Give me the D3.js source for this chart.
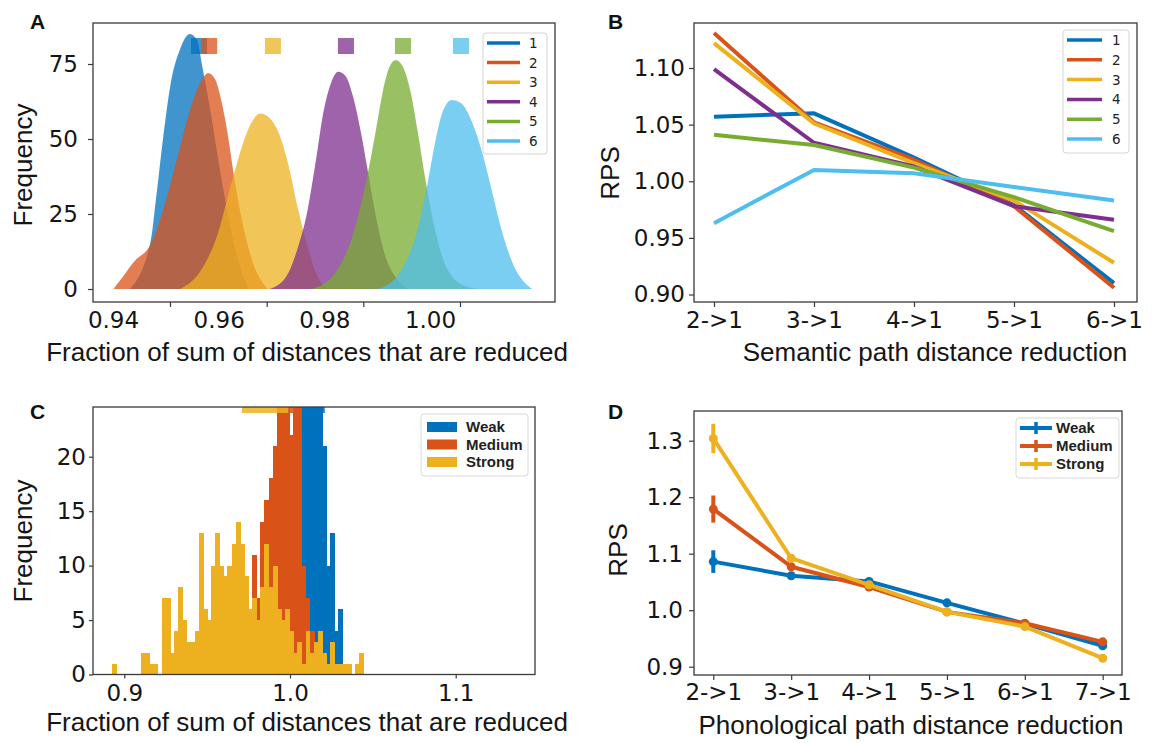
<!DOCTYPE html>
<html>
<head>
<meta charset="utf-8">
<script src="https://cdn.jsdelivr.net/npm/d3@7"></script>
<style>
  body { margin: 0; background: #fff; }
  svg { display: block; }
</style>
</head>
<body>
<svg id="fig" width="1157" height="743"></svg>
<script>
// ---- shared ----
var colors6 = ['#0072BD', '#D95319', '#EDB120', '#7E2F8E', '#77AC30', '#4DBEEE'];
var names6 = ['1', '2', '3', '4', '5', '6'];

// ---- panel A: distributions of reduced fraction ----
var xTicksA = [0.94, 0.96, 0.98, 1.00];
var yTicksA = [0, 25, 50, 75];
var curveA1 = [[0.9317,0],[0.9360,16],[0.9371,30],[0.9387,52],[0.9402,69],[0.9421,80],[0.9441,85],[0.9456,83],[0.9467,74],[0.9483,60],[0.9502,41],[0.9521,24],[0.9540,10],[0.9564,0]];
var curveA2 = [[0.9283,0],[0.9302,4],[0.9325,9],[0.9360,15],[0.9387,27],[0.9417,45],[0.9444,61],[0.9467,70],[0.9479,72],[0.9493,70],[0.9506,63],[0.9519,52],[0.9533,37],[0.9550,22],[0.9571,9],[0.9602,0]];
var curveA3 = [[0.9421,0],[0.9463,6],[0.9498,18],[0.9525,34],[0.9548,47],[0.9567,55],[0.9587,58.5],[0.9606,57],[0.9625,52],[0.9644,42],[0.9663,28],[0.9683,15],[0.9706,4],[0.9725,0]];
var curveA4 = [[0.9606,0],[0.9640,4],[0.9663,13],[0.9683,25],[0.9702,43],[0.9717,58.6],[0.9733,68.6],[0.9748,72.4],[0.9763,71],[0.9779,64],[0.9794,53],[0.9809,39.6],[0.9825,25],[0.9844,11.7],[0.9871,3],[0.9894,0]];
var curveA5 = [[0.9694,0],[0.9740,5],[0.9779,18.4],[0.9806,36],[0.9825,52],[0.9840,65.6],[0.9854,74],[0.9867,76.3],[0.9882,74],[0.9898,65.6],[0.9913,52],[0.9929,36],[0.9948,20],[0.9971,7.5],[1.0010,1],[1.0040,0]];
var curveA6 = [[0.9833,0],[0.9879,6.3],[0.9910,18.6],[0.9933,35.2],[0.9948,48.4],[0.9963,58.6],[0.9983,63],[1.0002,62],[1.0025,55.6],[1.0048,44.3],[1.0067,32],[1.0086,19.7],[1.0109,8.6],[1.0149,0]];
var meansA = [0.9460, 0.9481, 0.9613, 0.9764, 0.9882, 1.0002];
var markerLevelA = 81;

// ---- panel B: RPS by semantic path distance reduction ----
var stepsB = ['2->1', '3->1', '4->1', '5->1', '6->1'];
var yTicksB = [0.90, 0.95, 1.00, 1.05, 1.10];
var rpsB1 = [1.057, 1.060, 1.021, 0.979, 0.910];
var rpsB2 = [1.131, 1.052, 1.019, 0.978, 0.906];
var rpsB3 = [1.122, 1.051, 1.016, 0.983, 0.928];
var rpsB4 = [1.099, 1.034, 1.013, 0.978, 0.966];
var rpsB5 = [1.041, 1.032, 1.012, 0.986, 0.956];
var rpsB6 = [0.963, 1.010, 1.007, 0.995, 0.983];

// ---- panel C: histograms by strength ----
var xTicksC = [0.9, 1.0, 1.1];
var yTicksC = [0, 5, 10, 15, 20];
var binStartC = 0.8928, binWidthC = 0.00248;
var weakC = [0,0,0,0,0,0,0,0,0,0, 0,0,0,0,0,0,0,0,0,0, 0,0,0,0,0,0,0,0,0,0,
             0,0,0,0,0,0,0,0,2,5, 9,14,18,20,24,26,26,26,26,26, 26,21,10,13,4,6,0,0,0,0, 0];
var mediumC = [0,0,0,0,0,0,0,0,0,0, 0,0,0,0,0,0,0,0,0,0, 0,0,0,0,0,0,0,0,0,0,
               0,0,0,0,11,7,14,16,18,21, 26,26,26,22,26,26,10,7,4,2, 0,0,0,0,0,0,0,0,0,0, 0];
var strongC = [1,0,0,0,0,0,0,2,2,1, 1,0,7,7,2,4,8,5,3,3, 4,13,6,5,10,13,10,9,10,12,
               14,12,9,6,7,5,8,12,8,10, 6,5,6,4,2,3,1,4,2,3, 4,2,1,3,1,1,1,1,0,1, 2];
var stripWeakC = [1.016, 1.021], stripMediumC = [0.999, 1.006], stripStrongC = [0.971, 0.999];

// ---- panel D: RPS by phonological path distance reduction ----
var stepsD = ['2->1', '3->1', '4->1', '5->1', '6->1', '7->1'];
var yTicksD = [0.9, 1.0, 1.1, 1.2, 1.3];
var weakD = [1.086, 1.061, 1.051, 1.013, 0.976, 0.937];
var mediumD = [1.179, 1.077, 1.041, 0.997, 0.977, 0.944];
var strongD = [1.304, 1.092, 1.045, 0.997, 0.971, 0.915];
var weakErrD = [0.020, 0.006, 0.005, 0.005, 0.004, 0.005];
var mediumErrD = [0.024, 0.006, 0.005, 0.004, 0.004, 0.005];
var strongErrD = [0.026, 0.007, 0.005, 0.004, 0.004, 0.004];

var strengthNames = ['Weak', 'Medium', 'Strong'];
var strengthColors = ['#0072BD', '#D95319', '#EDB120'];

var svg = d3.select('#fig');
var tickFont = '"DejaVu Sans", sans-serif';
var titleFont = '"Liberation Sans", Arial, sans-serif';

function frame(b) {
  svg.append('rect').attr('x', b.l).attr('y', b.t).attr('width', b.r - b.l).attr('height', b.b - b.t)
    .attr('fill', 'none').attr('stroke', '#3a3a3a').attr('stroke-width', 1.3);
}
function clip(id, b) {
  svg.append('clipPath').attr('id', id).append('rect')
    .attr('x', b.l).attr('y', b.t).attr('width', b.r - b.l).attr('height', b.b - b.t);
  return svg.append('g').attr('clip-path', 'url(#' + id + ')');
}
function styleAxis(g) {
  g.select('.domain').remove();
  g.selectAll('.tick line').attr('stroke', '#3a3a3a').attr('stroke-width', 1.2);
  g.selectAll('.tick text').attr('font-family', tickFont).attr('font-size', 23).attr('fill', '#151515');
}
function title(x, y, txt, rotate) {
  var t = svg.append('text').attr('font-family', titleFont).attr('font-size', 26)
    .attr('fill', '#151515').attr('text-anchor', 'middle').text(txt);
  if (rotate) t.attr('transform', 'translate(' + x + ',' + y + ') rotate(-90)');
  else t.attr('x', x).attr('y', y);
}
function letter(x, y, txt) {
  svg.append('text').attr('x', x).attr('y', y).attr('font-family', titleFont)
    .attr('font-weight', 'bold').attr('font-size', 21).attr('fill', '#111').text(txt);
}

// ================= A =================
var boxA = {l: 93, r: 555, t: 23, b: 302};
var xA = d3.scaleLinear().domain([0.94, 1.00]).range([170, 460]);
var xLabA = d3.scaleLinear().domain([0.94, 1.00]).range([113, 430]);
var yA = d3.scaleLinear().domain([0, 75]).range([289, 64]);
var gA = clip('clipA', boxA);
var areaA = d3.area().x(function(d) { return xA(d[0]); }).y0(yA(0))
  .y1(function(d) { return yA(d[1]); }).curve(d3.curveMonotoneX);
[curveA1, curveA2, curveA3, curveA4, curveA5, curveA6].forEach(function(c, i) {
  gA.append('path').datum(c).attr('d', areaA).attr('fill', colors6[i]).attr('fill-opacity', 0.75);
});
gA.selectAll('.mean').data(meansA).enter().append('rect')
  .attr('x', function(d) { return xA(d) - 8; }).attr('y', yA(markerLevelA) - 8)
  .attr('width', 16).attr('height', 16)
  .attr('fill', function(d, i) { return colors6[i]; }).attr('fill-opacity', 0.75);
frame(boxA);
styleAxis(svg.append('g').attr('transform', 'translate(0,' + boxA.b + ')')
  .call(d3.axisBottom(xA).tickValues(xTicksA).tickSize(5).tickFormat('')));
styleAxis(svg.append('g').attr('transform', 'translate(0,' + boxA.b + ')')
  .call(d3.axisBottom(xLabA).tickValues(xTicksA).tickSize(0).tickPadding(10).tickFormat(d3.format('.2f'))));
styleAxis(svg.append('g').attr('transform', 'translate(' + boxA.l + ',0)')
  .call(d3.axisLeft(yA).tickValues(yTicksA).tickSize(5).tickPadding(10)));
title(32, 165, 'Frequency', true);
title(307, 361, 'Fraction of sum of distances that are reduced');
letter(30, 29, 'A');

var legA = svg.append('g');
legA.append('rect').attr('x', 483).attr('y', 33).attr('width', 64).attr('height', 121).attr('rx', 3)
  .attr('fill', '#fff').attr('fill-opacity', 0.85).attr('stroke', '#d4d4d4');
names6.forEach(function(n, i) {
  var y = 43 + i * 19.6;
  legA.append('line').attr('x1', 487).attr('x2', 520).attr('y1', y).attr('y2', y)
    .attr('stroke', colors6[i]).attr('stroke-width', 3.5);
  legA.append('text').attr('x', 529).attr('y', y + 5).attr('font-family', tickFont)
    .attr('font-size', 13.5).attr('fill', '#222').text(n);
});

// ================= B =================
var boxB = {l: 694, r: 1137, t: 23, b: 302};
var xB = d3.scalePoint().domain(stepsB).range([714, 1114]);
var yB = d3.scaleLinear().domain([0.90, 1.10]).range([294.5, 68]);
var gB = clip('clipB', boxB);
var lineB = d3.line().x(function(d, i) { return xB(stepsB[i]); }).y(function(d) { return yB(d); });
[rpsB1, rpsB2, rpsB3, rpsB4, rpsB5, rpsB6].forEach(function(s, i) {
  gB.append('path').datum(s).attr('d', lineB).attr('fill', 'none')
    .attr('stroke', colors6[i]).attr('stroke-width', 4).attr('stroke-linejoin', 'round');
});
frame(boxB);
styleAxis(svg.append('g').attr('transform', 'translate(0,' + boxB.b + ')')
  .call(d3.axisBottom(xB).tickSize(5).tickPadding(5)));
styleAxis(svg.append('g').attr('transform', 'translate(' + boxB.l + ',0)')
  .call(d3.axisLeft(yB).tickValues(yTicksB).tickSize(5).tickPadding(4).tickFormat(d3.format('.2f'))));
title(619, 173, 'RPS', true);
title(935, 361, 'Semantic path distance reduction');
letter(608, 29, 'B');

var legB = svg.append('g');
legB.append('rect').attr('x', 1063).attr('y', 30).attr('width', 66).attr('height', 123).attr('rx', 3)
  .attr('fill', '#fff').attr('fill-opacity', 0.85).attr('stroke', '#d4d4d4');
names6.forEach(function(n, i) {
  var y = 40 + i * 19.8;
  legB.append('line').attr('x1', 1067).attr('x2', 1102).attr('y1', y).attr('y2', y)
    .attr('stroke', colors6[i]).attr('stroke-width', 3.5);
  legB.append('text').attr('x', 1112).attr('y', y + 5).attr('font-family', tickFont)
    .attr('font-size', 13.5).attr('fill', '#222').text(n);
});

// ================= C =================
var boxC = {l: 93, r: 535, t: 407, b: 674.5};
var xC = d3.scaleLinear().domain([0.9, 1.0]).range([124.3, 290]);
var yC = d3.scaleLinear().domain([0, 20]).range([674.5, 456.7]);
var gC = clip('clipC', boxC);
var binPx = xC(binStartC + binWidthC) - xC(binStartC);
[weakC, mediumC, strongC].forEach(function(freq, si) {
  var bins = freq.map(function(h, k) { return {k: k, h: h}; }).filter(function(d) { return d.h > 0; });
  gC.selectAll('.bar' + si).data(bins).enter().append('rect')
    .attr('x', function(d) { return xC(binStartC + d.k * binWidthC); })
    .attr('width', binPx + 0.8)
    .attr('y', function(d) { return yC(d.h); })
    .attr('height', function(d) { return yC(0) - yC(d.h); })
    .attr('fill', strengthColors[si])
    .attr('shape-rendering', 'crispEdges');
});
[stripWeakC, stripMediumC, stripStrongC].forEach(function(s, si) {
  gC.append('rect').attr('x', xC(s[0])).attr('width', xC(s[1]) - xC(s[0]))
    .attr('y', boxC.t).attr('height', 6).attr('fill', strengthColors[si]).attr('fill-opacity', 0.85);
});
frame(boxC);
styleAxis(svg.append('g').attr('transform', 'translate(0,' + boxC.b + ')')
  .call(d3.axisBottom(xC).tickValues(xTicksC).tickSize(4).tickPadding(6).tickFormat(d3.format('.1f'))));
styleAxis(svg.append('g').attr('transform', 'translate(' + boxC.l + ',0)')
  .call(d3.axisLeft(yC).tickValues(yTicksC).tickSize(4).tickPadding(3)));
title(32, 541, 'Frequency', true);
title(307, 731, 'Fraction of sum of distances that are reduced');
letter(30, 419, 'C');

var legC = svg.append('g');
legC.append('rect').attr('x', 421).attr('y', 414).attr('width', 107).attr('height', 62).attr('rx', 3)
  .attr('fill', '#fff').attr('fill-opacity', 0.85).attr('stroke', '#d8d8d8');
strengthNames.forEach(function(n, i) {
  var y = 427 + i * 17.5;
  legC.append('rect').attr('x', 427).attr('y', y - 5).attr('width', 30).attr('height', 10)
    .attr('fill', strengthColors[i]);
  legC.append('text').attr('x', 466).attr('y', y + 5).attr('font-family', titleFont)
    .attr('font-weight', 'bold').attr('font-size', 15).attr('fill', '#222').text(n);
});

// ================= D =================
var boxD = {l: 694, r: 1122, t: 411, b: 675};
var xD = d3.scalePoint().domain(stepsD).range([713.3, 1102.7]);
var yD = d3.scaleLinear().domain([0.9, 1.3]).range([666.7, 440.7]);
var gD = svg.append('g');
var lineD = d3.line().x(function(d, i) { return xD(stepsD[i]); }).y(function(d) { return yD(d); });
var seriesD = [[weakD, weakErrD], [mediumD, mediumErrD], [strongD, strongErrD]];
seriesD.forEach(function(s, si) {
  var c = strengthColors[si];
  gD.append('path').datum(s[0]).attr('d', lineD).attr('fill', 'none')
    .attr('stroke', c).attr('stroke-width', 4).attr('stroke-linejoin', 'round');
  gD.selectAll('.err' + si).data(s[0]).enter().append('line')
    .attr('x1', function(d, i) { return xD(stepsD[i]); }).attr('x2', function(d, i) { return xD(stepsD[i]); })
    .attr('y1', function(d, i) { return yD(d - s[1][i]); }).attr('y2', function(d, i) { return yD(d + s[1][i]); })
    .attr('stroke', c).attr('stroke-width', 4);
  gD.selectAll('.dot' + si).data(s[0]).enter().append('circle')
    .attr('cx', function(d, i) { return xD(stepsD[i]); }).attr('cy', function(d) { return yD(d); })
    .attr('r', 4.5).attr('fill', c);
});
frame(boxD);
styleAxis(svg.append('g').attr('transform', 'translate(0,' + boxD.b + ')')
  .call(d3.axisBottom(xD).tickSize(5).tickPadding(4)));
styleAxis(svg.append('g').attr('transform', 'translate(' + boxD.l + ',0)')
  .call(d3.axisLeft(yD).tickValues(yTicksD).tickSize(5).tickPadding(6).tickFormat(d3.format('.1f'))));
title(627, 550, 'RPS', true);
title(911, 734, 'Phonological path distance reduction');
letter(608, 419, 'D');

var legD = svg.append('g');
legD.append('rect').attr('x', 1016).attr('y', 418).attr('width', 103).attr('height', 60).attr('rx', 3)
  .attr('fill', '#fff').attr('fill-opacity', 0.85).attr('stroke', '#d8d8d8');
strengthNames.forEach(function(n, i) {
  var y = 428 + i * 18;
  legD.append('line').attr('x1', 1020).attr('x2', 1052).attr('y1', y).attr('y2', y)
    .attr('stroke', strengthColors[i]).attr('stroke-width', 4);
  legD.append('line').attr('x1', 1036).attr('x2', 1036).attr('y1', y - 6).attr('y2', y + 6)
    .attr('stroke', strengthColors[i]).attr('stroke-width', 3.5);
  legD.append('text').attr('x', 1056).attr('y', y + 5).attr('font-family', titleFont)
    .attr('font-weight', 'bold').attr('font-size', 15).attr('fill', '#222').text(n);
});
</script>
</body>
</html>
